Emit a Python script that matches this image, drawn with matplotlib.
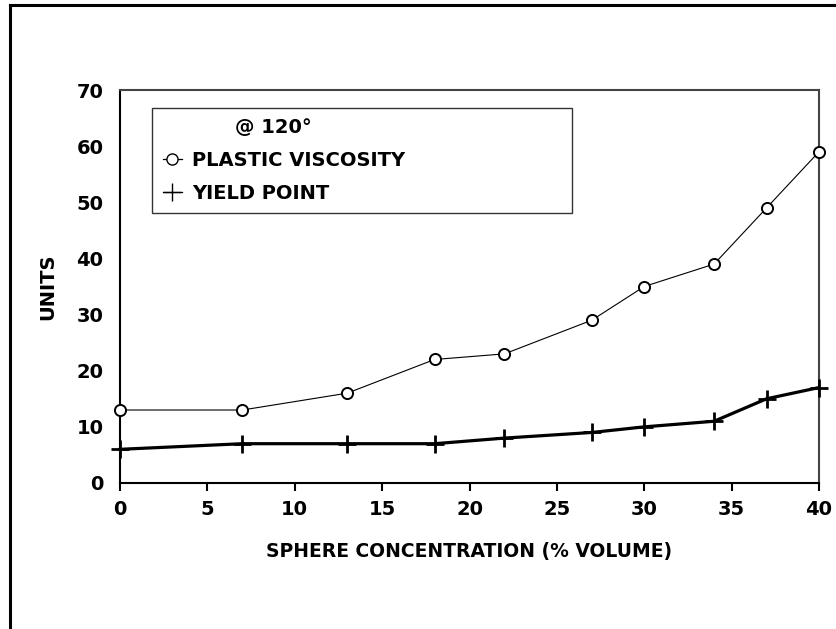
import matplotlib
matplotlib.use("Agg")
import matplotlib.pyplot as plt
from matplotlib.lines import Line2D

plt.rcParams['font.family'] = ['DejaVu Sans']

concentration = [0, 7, 13, 18, 22, 27, 30, 34, 37, 40]
plastic_viscosity = [13, 13, 16, 22, 23, 29, 35, 39, 49, 59]
yield_point = [6, 7, 7, 7, 8, 9, 10, 11, 15, 17]
x_ticks = [0, 5, 10, 15, 20, 25, 30, 35, 40]
y_ticks = [0, 10, 20, 30, 40, 50, 60, 70]

W, H = 836, 629
fig = plt.figure(figsize=(W / 100, H / 100), dpi=100)
ax = fig.add_axes([120 / W, 1 - 483 / H, 699 / W, 393 / H])

ax.plot(concentration, plastic_viscosity, color='black', lw=0.8,
        marker='o', ms=8, mfc='white', mec='black', mew=1.4,
        label='PLASTIC VISCOSITY', clip_on=False, zorder=3)
ax.plot(concentration, yield_point, color='black', lw=2.3,
        marker='+', ms=13, mew=2.0,
        label='YIELD POINT', clip_on=False, zorder=3)

ax.set_xlim(0, 40)
ax.set_ylim(0, 70)
ax.set_xticks(x_ticks)
ax.set_yticks(y_ticks)
ax.tick_params(axis='x', direction='out', length=6, width=1.5, pad=6,
               labelsize=14)
ax.tick_params(axis='y', length=0, pad=12, labelsize=14)
for lab in ax.get_xticklabels() + ax.get_yticklabels():
    lab.set_fontweight('bold')

for s in ['left', 'bottom']:
    ax.spines[s].set_linewidth(1.5)
    ax.spines[s].set_color('black')
for s in ['top', 'right']:
    ax.spines[s].set_linewidth(1.5)
    ax.spines[s].set_color('#444444')

ax.set_xlabel('SPHERE CONCENTRATION (% VOLUME)', fontsize=13.5,
              fontweight='bold', labelpad=17)
ax.set_ylabel('UNITS', fontsize=14, fontweight='bold', labelpad=14)

leg = ax.legend(loc='upper left',
                bbox_to_anchor=(32 / 699, 0.955, 420 / 699, 0.0),
                mode='expand', title='@ 120°', frameon=True, fancybox=False,
                prop={'weight': 'bold', 'size': 14},
                title_fontproperties={'weight': 'bold', 'size': 14},
                handlelength=1.0, handletextpad=0.5, borderpad=0.55,
                labelspacing=0.7, borderaxespad=0)
leg.get_frame().set_edgecolor('black')
leg.get_frame().set_linewidth(1.0)
leg._legend_box.align = 'left'
leg.get_title().set_position((72, 0))
for h in leg.legend_handles:
    h.set_linewidth(0.9)
    h.set_markeredgewidth(1.0)

# outer border lines
fig.add_artist(Line2D([10 / W, 10 / W], [0, 1 - 5 / H], color='black',
                      lw=2.2, transform=fig.transFigure))
fig.add_artist(Line2D([10 / W, 1], [1 - 5 / H, 1 - 5 / H], color='black',
                      lw=2.2, transform=fig.transFigure))

fig.savefig('out.png', dpi=100)
